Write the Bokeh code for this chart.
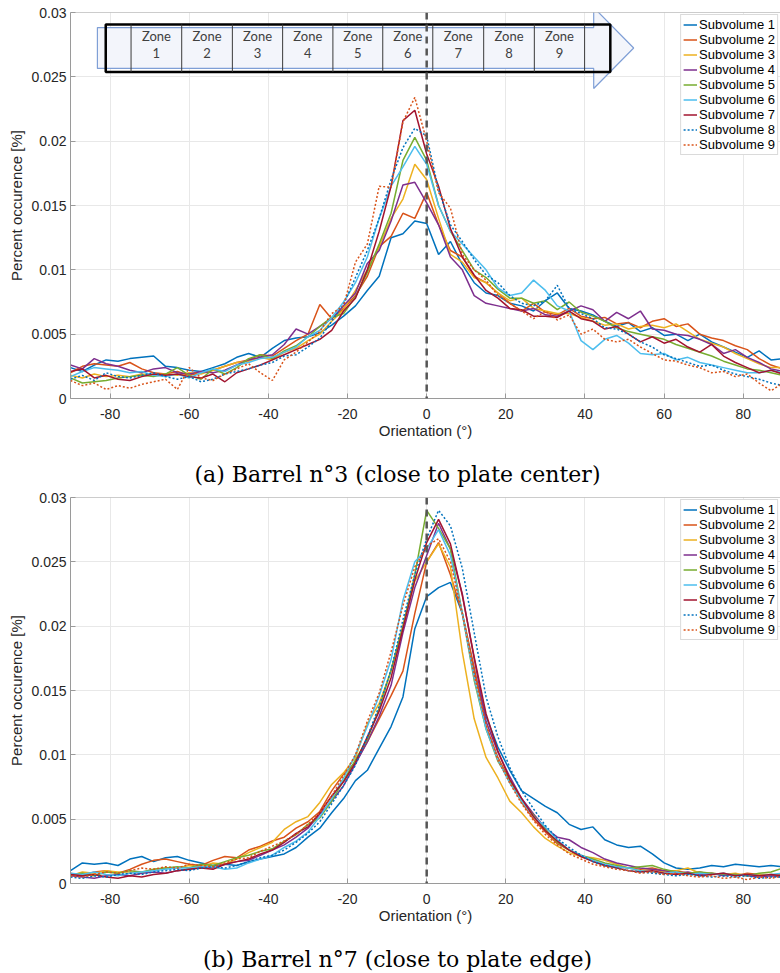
from bokeh.plotting import figure
from bokeh.models import Range1d, FixedTicker, PrintfTickFormatter, Span
from bokeh.layouts import column
from bokeh.embed import file_html
from bokeh.resources import INLINE
from bokeh.core.properties import value

# ---------------- data ----------------
orientation = list(range(-90, 91, 3))  # degrees, bin centres

# (a) Barrel n°3 - values in per-mille (x 1e-3)
a_s1 = [2.4, 2.1, 2.6, 3.0, 2.9, 3.1, 3.2, 3.3, 2.5, 2.4,
        2.2, 2.1, 2.4, 2.7, 3.2, 3.5, 3.2, 3.9, 4.5, 4.7,
        4.8, 5.1, 5.7, 6.4, 7.2, 8.4, 9.5, 12.5, 12.8, 13.8,
        13.6,
        11.2, 12.2, 10.4, 9.0, 8.2, 8.0, 7.4, 7.2, 6.8, 7.6,
        8.2, 7.0, 6.8, 6.5, 6.0, 5.6, 5.9, 5.2, 5.5, 4.9,
        5.0, 4.5, 5.0, 4.4, 4.0, 3.6, 3.2, 3.7, 3.0, 3.1]
a_s2 = [2.0, 2.5, 2.7, 2.6, 2.5, 2.8, 2.3, 2.0, 1.9, 2.1,
        1.8, 2.0, 2.2, 2.5, 2.8, 3.0, 3.4, 3.3, 3.9, 4.5,
        5.0, 7.3, 6.2, 7.0, 8.0, 9.5, 11.8, 12.6, 14.4, 14.0,
        16.0,
        13.5, 11.5, 11.0, 9.5, 9.0, 8.2, 7.4, 6.8, 7.4, 6.7,
        6.5, 7.0, 6.4, 6.2, 6.3, 5.8, 5.9, 5.5, 6.0, 6.2,
        5.6, 5.8, 5.0, 4.7, 4.5, 4.1, 3.8, 3.1, 2.6, 2.3]
a_s3 = [1.8, 1.6, 1.9, 1.7, 1.8, 1.7, 1.9, 1.8, 1.9, 1.8,
        2.0, 1.9, 2.2, 2.5, 2.8, 2.9, 3.2, 3.0, 3.6, 3.9,
        4.5, 5.0, 6.0, 6.9, 8.4, 10.0, 11.8, 14.0, 15.5, 18.2,
        17.0,
        14.0, 11.2, 10.6, 9.4, 9.0, 8.2, 7.6, 7.8, 7.0, 6.8,
        6.6, 6.6, 6.3, 6.0, 5.7, 5.8, 5.4, 5.6, 5.7, 5.5,
        5.8, 5.2, 4.6, 4.3, 4.0, 3.5, 3.1, 2.7, 2.4, 2.4]
a_s4 = [2.6, 2.3, 3.1, 2.7, 2.5, 2.2, 2.0, 2.3, 2.4, 2.0,
        1.9, 2.1, 2.0, 2.2, 2.6, 3.0, 3.2, 3.4, 4.2, 5.4,
        5.0, 5.6, 6.2, 7.2, 8.2, 10.5, 11.5, 13.8, 16.6, 16.8,
        15.2,
        13.5, 11.0, 10.0, 8.0, 7.4, 7.2, 7.0, 6.8, 7.0, 6.5,
        6.4, 6.8, 7.2, 6.9, 6.0, 6.7, 6.2, 6.8, 5.4, 5.3,
        5.0, 4.9, 4.6, 4.2, 3.5, 3.8, 3.2, 2.8, 2.3, 2.1]
a_s5 = [1.6, 1.2, 1.3, 1.4, 1.6, 1.7, 1.8, 1.7, 1.9, 2.4,
        1.8, 1.5, 2.3, 1.9, 2.4, 3.1, 3.4, 3.1, 3.7, 4.1,
        4.8, 5.6, 6.3, 6.6, 7.9, 9.8, 12.0, 14.4, 18.5, 20.3,
        18.5,
        15.0, 13.0, 11.5, 10.0, 9.4, 8.5, 7.8, 7.8, 7.4, 7.6,
        6.9, 7.5, 6.7, 6.4, 6.0, 5.5, 5.2, 5.0, 4.8, 4.6,
        4.2, 3.9, 3.6, 3.3, 2.9, 2.6, 2.3, 2.2, 2.0, 1.8]
a_s6 = [1.7, 2.1, 2.4, 2.3, 2.2, 2.0, 2.1, 1.8, 1.7, 1.9,
        1.6, 2.0, 2.3, 2.1, 2.6, 2.8, 3.1, 3.2, 3.6, 4.0,
        4.8, 5.3, 6.3, 7.5, 9.0, 11.0, 14.0, 16.5, 18.0, 19.6,
        18.2,
        15.0, 13.0, 12.0, 11.0, 10.0, 8.6, 8.0, 8.2, 9.2, 8.4,
        7.2, 6.8, 4.5, 3.8, 4.6, 4.9, 4.3, 3.5, 3.4, 3.5,
        3.0, 3.2, 2.8, 2.6, 2.4, 2.2, 2.0, 2.0, 2.2, 2.0]
a_s7 = [2.1, 2.3, 1.6, 1.8, 1.5, 1.4, 1.7, 1.9, 1.8, 1.9,
        1.7, 1.6, 1.9, 1.3, 2.0, 2.3, 2.6, 3.0, 3.4, 3.8,
        4.2, 4.6, 5.3, 6.8, 7.8, 10.0, 13.0, 16.5, 21.6, 22.4,
        19.0,
        16.5, 13.2, 11.0, 9.6, 8.4, 7.8, 7.0, 6.9, 6.4, 6.4,
        6.3, 6.8, 6.2, 6.0, 5.4, 5.6, 5.0, 4.4, 4.8, 4.3,
        4.6, 4.0, 3.6, 4.2, 3.3, 2.8, 2.4, 2.0, 2.2, 1.9]
a_s8 = [1.5, 1.8, 1.4, 2.0, 1.7, 1.6, 1.8, 2.0, 1.7, 1.5,
        1.7, 1.3, 1.5, 1.9, 2.1, 2.3, 2.6, 2.8, 3.3, 3.4,
        4.0, 4.7, 6.0, 7.3, 9.4, 11.5, 14.0, 17.0, 19.5, 21.0,
        20.4,
        16.2, 13.5, 12.2, 10.8, 9.6, 9.0, 8.0, 7.4, 7.2, 7.6,
        8.8, 7.0, 6.6, 6.2, 5.5, 5.4, 5.0, 4.4, 4.0, 3.4,
        3.1, 2.8, 2.5, 2.6, 2.2, 1.9, 1.7, 1.5, 1.2, 1.0]
a_s9 = [1.4, 1.0, 1.2, 0.7, 1.0, 0.8, 1.1, 1.3, 1.5, 0.7,
        2.4, 1.6, 1.4, 1.9, 2.3, 2.7, 2.0, 1.4, 3.0, 3.6,
        4.4, 5.2, 6.6, 7.2, 10.6, 12.0, 16.5, 16.4, 21.5, 23.4,
        20.0,
        16.0, 14.8, 11.2, 10.0, 9.2, 8.0, 7.4, 6.8, 6.2, 6.8,
        6.1, 6.5, 5.0, 5.4, 4.6, 4.4, 4.6, 4.0, 3.5, 3.0,
        2.9, 2.6, 2.4, 2.0, 2.1, 1.7, 1.9, 1.2, 0.6, 1.2]

# (b) Barrel n°7 - values in per-mille (x 1e-3)
b_s1 = [1.0, 1.6, 1.5, 1.6, 1.4, 1.9, 2.1, 1.7, 2.0, 2.1,
        1.8, 1.6, 1.4, 1.5, 1.4, 1.7, 1.9, 2.1, 2.3, 2.8,
        3.6, 4.3, 5.5, 6.6, 8.0, 8.8, 10.5, 12.2, 14.5, 19.8,
        22.3,
        23.0, 23.4, 21.0, 16.5, 13.0, 10.6, 8.8, 7.2, 6.6, 6.0,
        5.5, 4.6, 4.2, 4.4, 3.4, 3.0, 2.8, 2.9, 2.3, 1.6,
        1.2, 1.1, 1.2, 1.4, 1.3, 1.5, 1.4, 1.3, 1.4, 1.3]
b_s2 = [0.8, 0.6, 0.9, 1.0, 0.8, 1.1, 1.5, 1.8, 1.9, 1.7,
        1.5, 1.4, 1.8, 2.1, 2.0, 2.6, 2.9, 3.3, 3.6, 4.3,
        4.8, 5.6, 7.2, 8.5, 9.4, 11.0, 12.8, 14.6, 16.5, 21.0,
        25.0,
        26.5, 24.0, 21.0, 16.8, 12.2, 9.8, 8.0, 6.3, 5.0, 4.0,
        3.1, 2.6, 2.1, 1.8, 1.4, 1.3, 1.2, 1.1, 1.2, 1.0,
        1.0, 0.8, 0.9, 0.7, 0.8, 0.6, 0.8, 0.7, 0.6, 0.7]
b_s3 = [0.6, 0.9, 0.8, 1.0, 0.9, 0.9, 0.8, 1.1, 1.2, 1.2,
        1.4, 1.3, 1.6, 1.5, 1.9, 2.4, 2.8, 3.2, 4.2, 4.8,
        5.2, 6.3, 7.7, 8.6, 9.8, 12.4, 14.0, 16.5, 20.0, 23.5,
        25.0,
        26.4, 24.6, 18.0, 12.8, 9.8, 8.2, 6.4, 5.5, 4.4, 3.5,
        2.9, 2.4, 2.1, 2.0, 1.8, 1.5, 1.2, 1.0, 1.1, 0.9,
        1.0, 1.2, 0.8, 0.8, 0.7, 0.8, 0.6, 0.7, 0.7, 0.6]
b_s4 = [0.6, 0.5, 0.4, 0.6, 0.7, 0.6, 0.8, 0.9, 0.8, 1.0,
        1.1, 1.3, 1.2, 1.5, 1.7, 1.8, 2.2, 2.6, 3.0, 3.6,
        4.3, 5.4, 6.4, 7.6, 9.3, 11.0, 13.0, 15.4, 19.5, 23.0,
        25.5,
        28.0, 26.0, 22.5, 17.5, 12.6, 10.2, 8.3, 6.6, 5.4, 4.3,
        3.6, 3.4, 2.8, 2.4, 1.9, 1.6, 1.4, 1.2, 1.1, 1.0,
        0.8, 0.9, 0.7, 0.8, 0.6, 0.7, 0.6, 0.5, 0.6, 0.5]
b_s5 = [0.7, 0.8, 0.6, 0.9, 0.8, 1.0, 0.9, 1.1, 1.2, 1.3,
        1.2, 1.5, 1.4, 1.7, 2.0, 2.2, 2.5, 2.7, 3.3, 3.8,
        4.6, 5.1, 6.4, 8.0, 9.6, 11.2, 13.6, 16.6, 20.0, 24.0,
        29.0,
        27.6, 26.0, 21.0, 15.8, 12.0, 9.5, 8.0, 6.4, 5.3, 4.2,
        3.2, 2.6, 2.2, 1.9, 1.6, 1.4, 1.2, 1.3, 1.4, 1.1,
        0.9, 0.8, 0.9, 0.8, 0.7, 0.7, 0.6, 0.8, 0.9, 1.2]
b_s6 = [0.8, 0.7, 0.9, 0.7, 0.6, 0.8, 0.9, 1.0, 1.1, 1.2,
        1.2, 1.3, 1.3, 1.1, 1.2, 1.6, 1.9, 2.2, 2.8, 3.3,
        4.0, 5.2, 6.6, 8.2, 10.0, 12.2, 14.6, 17.4, 22.0, 25.0,
        26.0,
        27.5, 25.5, 21.0, 16.0, 12.0, 9.6, 7.8, 6.4, 5.2, 4.4,
        3.4, 2.6, 2.2, 1.8, 1.5, 1.3, 1.2, 1.0, 0.9, 0.8,
        0.9, 0.7, 0.8, 0.7, 0.8, 0.6, 0.7, 0.6, 0.7, 0.8]
b_s7 = [0.7, 0.6, 0.7, 0.5, 0.4, 0.6, 0.5, 0.7, 0.8, 1.0,
        1.1, 1.2, 1.1, 1.5, 1.7, 1.9, 2.3, 2.6, 3.2, 3.9,
        4.4, 5.5, 6.8, 7.9, 9.4, 11.4, 13.4, 16.0, 19.8, 23.6,
        26.5,
        28.3, 26.4, 22.4, 17.6, 13.2, 10.3, 8.1, 6.6, 5.2, 4.1,
        3.3, 2.6, 2.1, 1.7, 1.4, 1.2, 1.0, 0.9, 1.0, 0.8,
        0.7, 0.8, 0.6, 0.7, 0.8, 0.6, 0.7, 0.6, 0.7, 0.6]
b_s8 = [0.5, 0.4, 0.6, 0.5, 0.7, 0.8, 0.7, 0.9, 1.0, 1.1,
        1.0, 1.2, 1.3, 1.2, 1.4, 1.7, 2.0, 2.2, 2.6, 3.2,
        3.9, 4.8, 6.2, 7.6, 9.2, 11.4, 13.8, 16.6, 20.5, 24.0,
        26.8,
        29.0, 27.8, 24.5, 19.5, 14.5, 11.4, 9.0, 7.2, 5.8, 4.5,
        3.5, 2.8, 2.2, 1.7, 1.4, 1.2, 1.0, 0.9, 0.8, 0.7,
        0.6, 0.7, 0.6, 0.5, 0.6, 0.5, 0.6, 0.4, 0.5, 0.5]
b_s9 = [0.6, 0.5, 0.7, 0.9, 0.8, 1.0, 1.2, 1.1, 1.3, 1.2,
        1.5, 1.4, 1.3, 1.6, 1.9, 2.0, 2.5, 2.9, 3.3, 3.8,
        4.6, 5.5, 6.8, 8.4, 10.0, 12.6, 14.8, 18.0, 21.6, 24.6,
        26.2,
        26.8, 25.0, 21.0, 16.2, 12.4, 9.6, 7.8, 6.2, 4.9, 3.8,
        3.0, 2.3, 1.9, 1.5, 1.3, 1.1, 1.0, 0.8, 0.9, 0.7,
        0.8, 0.6, 0.5, 0.6, 0.4, 0.5, 0.3, 0.5, 0.4, 0.6]

series_a = [a_s1, a_s2, a_s3, a_s4, a_s5, a_s6, a_s7, a_s8, a_s9]
series_b = [b_s1, b_s2, b_s3, b_s4, b_s5, b_s6, b_s7, b_s8, b_s9]
labels = ["Subvolume 1", "Subvolume 2", "Subvolume 3", "Subvolume 4", "Subvolume 5",
          "Subvolume 6", "Subvolume 7", "Subvolume 8", "Subvolume 9"]
x_ticks = [-80, -60, -40, -20, 0, 20, 40, 60, 80]
y_ticks = [0, 0.005, 0.01, 0.015, 0.02, 0.025, 0.03]
captions = ["(a) Barrel n°3 (close to plate center)", "(b) Barrel n°7 (close to plate edge)"]

# zone overlay (data coordinates of the schematic drawn on panel a)
zone_names = ["1", "2", "3", "4", "5", "6", "7", "8", "9"]
zone_edges = [-74.7, -61.9, -49.1, -36.4, -23.7, -11.1, 1.54, 14.4, 27.2, 39.9]
zone_box = dict(left=-81.1, right=46.4, bottom=0.02538, top=0.02907)
arrow_x = [-83.2, 42.2, 42.2, 52.3, 42.2, 42.2, -83.2]
arrow_y = [0.02883, 0.02883, 0.03039, 0.02724, 0.02409, 0.02565, 0.02565]

# ---------------- style ----------------
colors = ["#0072BD", "#D95319", "#EDB120", "#7E2F8E", "#77AC30",
          "#4DBEEE", "#A2142F", "#0072BD", "#D95319"]
dashes = ["solid"] * 7 + ["2 2", "2 2"]
AX = "#9a9a9a"
TXT = "#262626"


def make_fig(series, height, top_border, bottom_border):
    p = figure(width=780, height=height, x_range=Range1d(-90, 89.4), y_range=Range1d(0, 0.03),
               output_backend="svg", toolbar_location=None,
               min_border_left=70, min_border_right=0,
               min_border_top=top_border, min_border_bottom=bottom_border)
    p.outline_line_color = None
    p.background_fill_color = "white"
    p.border_fill_color = "white"

    p.xgrid.grid_line_color = "#e8e8e8"
    p.ygrid.grid_line_color = "#e8e8e8"

    for i, vals in enumerate(series):
        p.line(orientation, [v / 1000.0 for v in vals], line_color=colors[i], line_width=1.5,
               line_dash=dashes[i], legend_label=labels[i])

    p.add_layout(Span(location=0, dimension="height", line_color="#555555",
                      line_width=2.5, line_dash="7 5"))
    p.add_layout(Span(location=0.03, dimension="width", line_color=AX, line_width=1))

    p.xaxis.ticker = FixedTicker(ticks=x_ticks)
    p.yaxis.ticker = FixedTicker(ticks=y_ticks)
    p.xaxis.formatter = PrintfTickFormatter(format="%d")
    p.yaxis.formatter = PrintfTickFormatter(format="%g")
    p.xaxis.axis_label = "Orientation (°)"
    p.yaxis.axis_label = "Percent occurence [%]"
    for ax in (p.xaxis[0], p.yaxis[0]):
        ax.axis_line_color = AX
        ax.major_tick_line_color = AX
        ax.major_tick_in = 5
        ax.major_tick_out = 0
        ax.minor_tick_line_color = None
        ax.major_label_text_font = "Liberation Sans"
        ax.major_label_text_font_size = "14px"
        ax.major_label_text_color = TXT
        ax.axis_label_text_font = "Liberation Sans"
        ax.axis_label_text_font_size = "15px"
        ax.axis_label_text_font_style = "normal"
        ax.axis_label_text_color = TXT
    p.xaxis.major_label_standoff = 10
    p.xaxis.axis_label_standoff = 0
    p.yaxis.major_label_standoff = 4
    p.yaxis.axis_label_standoff = 3

    leg = p.legend[0]
    leg.location = "top_right"
    leg.margin = 2
    leg.padding = 2
    leg.spacing = 0
    leg.label_height = 15
    leg.glyph_height = 15
    leg.glyph_width = 14
    leg.label_standoff = 2
    leg.label_text_font = "Liberation Sans"
    leg.label_text_font_size = "13px"
    leg.label_text_color = "black"
    leg.border_line_color = "#b5b5b5"
    leg.background_fill_alpha = 1.0
    return p


def caption_fig(text, height, centre_from_top):
    # the column aligns this frame with the plots above (page x 70..780),
    # so the x range is expressed in page pixels over that frame
    c = figure(width=780, height=height, x_range=Range1d(70, 780), y_range=Range1d(0, height),
               output_backend="svg", toolbar_location=None, x_axis_type=None, y_axis_type=None,
               min_border=0)
    c.outline_line_color = None
    c.background_fill_color = "white"
    c.border_fill_color = "white"
    c.grid.visible = False
    c.text(x=[397], y=[height - centre_from_top], text=[text], text_font=value("DejaVu Serif"),
           text_font_size="22px", text_align="center", text_baseline="middle", text_color="black")
    return c


p1 = make_fig(series_a, 448, 12, 50)

# zone schematic on panel (a)
p1.patch(arrow_x, arrow_y, fill_color="#f3f5fb", line_color="#7f9fd6", line_width=1.2)
p1.quad(left=[zone_box["left"]], right=[zone_box["right"]], bottom=[zone_box["bottom"]],
        top=[zone_box["top"]], fill_color=None, line_color="black", line_width=2.5)
p1.segment(x0=zone_edges, y0=[zone_box["bottom"]] * len(zone_edges), x1=zone_edges,
           y1=[zone_box["top"]] * len(zone_edges), line_color="#3a3a3a", line_width=1)
zone_centers = [(zone_edges[i] + zone_edges[i + 1]) / 2 for i in range(9)]
p1.text(x=zone_centers, y=[0.02816] * 9, text=["Zone"] * 9, text_font=value("Lato"),
        text_font_size="13px", text_color="#404040", text_align="center", text_baseline="middle")
p1.text(x=zone_centers, y=[0.02684] * 9, text=zone_names, text_font=value("Lato"),
        text_font_size="13px", text_color="#404040", text_align="center", text_baseline="middle")

c1 = caption_fig(captions[0], 41, 26)
p2 = make_fig(series_b, 442, 8, 48)
c2 = caption_fig(captions[1], 42, 28)

layout = column(p1, c1, p2, c2, spacing=0)
open("out.html", "w").write(file_html(layout, INLINE))
